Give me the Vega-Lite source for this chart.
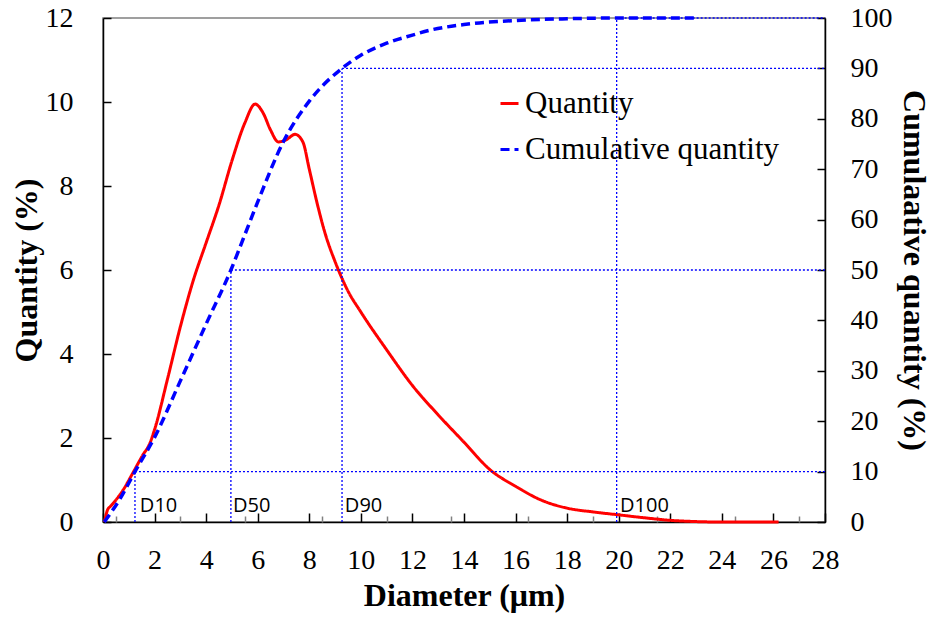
{
  "$schema": "https://vega.github.io/schema/vega-lite/v6.json",
  "width": 722,
  "height": 504,
  "autosize": "none",
  "padding": {"left": 103, "top": 18, "right": 107, "bottom": 97},
  "background": "white",
  "config": {
    "view": {"stroke": "#808080", "strokeWidth": 1.5},
    "axis": {"grid": false, "labelFont": "Liberation Serif", "labelFontSize": 28, "labelColor": "black", "labelFlush": false, "labelOverlap": false, "titleFont": "Liberation Serif", "titleFontSize": 32, "titleFontWeight": "bold", "titleColor": "black", "domainColor": "black", "domainWidth": 1.5, "tickColor": "black", "tickWidth": 1.5},
    "legend": {"padding": 0}
  },
  "datasets": {
    "qty": [
      {"s": "Quantity", "d": 0.05, "v": 0}, {"s": "Quantity", "d": 0.1, "v": 0.12}, {"s": "Quantity", "d": 0.17, "v": 0.28}, {"s": "Quantity", "d": 0.3, "v": 0.38}, {"s": "Quantity", "d": 0.47, "v": 0.5},
      {"s": "Quantity", "d": 0.8, "v": 0.78}, {"s": "Quantity", "d": 1.16, "v": 1.17}, {"s": "Quantity", "d": 1.55, "v": 1.6}, {"s": "Quantity", "d": 1.8, "v": 1.85}, {"s": "Quantity", "d": 2.0, "v": 2.2},
      {"s": "Quantity", "d": 2.5, "v": 3.4}, {"s": "Quantity", "d": 3.0, "v": 4.65}, {"s": "Quantity", "d": 3.5, "v": 5.75}, {"s": "Quantity", "d": 4.0, "v": 6.65}, {"s": "Quantity", "d": 4.5, "v": 7.55},
      {"s": "Quantity", "d": 5.0, "v": 8.6}, {"s": "Quantity", "d": 5.5, "v": 9.5}, {"s": "Quantity", "d": 5.9, "v": 9.95}, {"s": "Quantity", "d": 6.2, "v": 9.75}, {"s": "Quantity", "d": 6.5, "v": 9.33},
      {"s": "Quantity", "d": 6.8, "v": 9.05}, {"s": "Quantity", "d": 7.1, "v": 9.1}, {"s": "Quantity", "d": 7.45, "v": 9.23}, {"s": "Quantity", "d": 7.75, "v": 9.05}, {"s": "Quantity", "d": 8.0, "v": 8.4},
      {"s": "Quantity", "d": 8.3, "v": 7.6}, {"s": "Quantity", "d": 8.6, "v": 6.9}, {"s": "Quantity", "d": 9.0, "v": 6.2}, {"s": "Quantity", "d": 9.5, "v": 5.5}, {"s": "Quantity", "d": 10.0, "v": 5.0}, {"s": "Quantity", "d": 11.0, "v": 4.1},
      {"s": "Quantity", "d": 12.0, "v": 3.25}, {"s": "Quantity", "d": 13.0, "v": 2.55}, {"s": "Quantity", "d": 14.0, "v": 1.9}, {"s": "Quantity", "d": 15.0, "v": 1.25}, {"s": "Quantity", "d": 16.0, "v": 0.85},
      {"s": "Quantity", "d": 17.0, "v": 0.52}, {"s": "Quantity", "d": 18.0, "v": 0.33}, {"s": "Quantity", "d": 19.0, "v": 0.24}, {"s": "Quantity", "d": 20.0, "v": 0.17}, {"s": "Quantity", "d": 21.0, "v": 0.1},
      {"s": "Quantity", "d": 22.0, "v": 0.04}, {"s": "Quantity", "d": 23.0, "v": 0.01}, {"s": "Quantity", "d": 24.0, "v": 0}, {"s": "Quantity", "d": 26.2, "v": 0}
    ],
    "cum": [
      {"s": "Cumulative quantity", "d": 0.05, "v": 0}, {"s": "Cumulative quantity", "d": 0.66, "v": 4.6}, {"s": "Cumulative quantity", "d": 1.24, "v": 10}, {"s": "Cumulative quantity", "d": 2.0, "v": 16.8}, {"s": "Cumulative quantity", "d": 3.0, "v": 28},
      {"s": "Cumulative quantity", "d": 4.0, "v": 39.3}, {"s": "Cumulative quantity", "d": 4.96, "v": 50}, {"s": "Cumulative quantity", "d": 5.5, "v": 57}, {"s": "Cumulative quantity", "d": 6.0, "v": 63.5}, {"s": "Cumulative quantity", "d": 7.0, "v": 75.5},
      {"s": "Cumulative quantity", "d": 8.03, "v": 83.7}, {"s": "Cumulative quantity", "d": 9.27, "v": 90}, {"s": "Cumulative quantity", "d": 10.0, "v": 92.6},
      {"s": "Cumulative quantity", "d": 11.0, "v": 95.0}, {"s": "Cumulative quantity", "d": 12.0, "v": 96.6}, {"s": "Cumulative quantity", "d": 12.7, "v": 97.6}, {"s": "Cumulative quantity", "d": 14.0, "v": 98.7}, {"s": "Cumulative quantity", "d": 16.0, "v": 99.5},
      {"s": "Cumulative quantity", "d": 18.0, "v": 99.85}, {"s": "Cumulative quantity", "d": 20.0, "v": 100}, {"s": "Cumulative quantity", "d": 23.0, "v": 100}
    ],
    "guides": [
      {"label": "D10", "x": 1.24, "p": 10, "tx": 1.43, "base": 0, "end": 28, "ty": 2},
      {"label": "D50", "x": 4.96, "p": 50, "tx": 5.04, "base": 0, "end": 28, "ty": 2},
      {"label": "D90", "x": 9.27, "p": 90, "tx": 9.38, "base": 0, "end": 28, "ty": 2},
      {"label": "D100", "x": 19.92, "p": 100, "tx": 20.05, "base": 0, "end": 28, "ty": 2}
    ]
  },
  "layer": [
    {
      "data": {"name": "qty"},
      "mark": {"type": "line", "strokeWidth": 3, "interpolate": "monotone"},
      "encoding": {
        "x": {"field": "d", "type": "quantitative", "scale": {"domain": [0, 28], "nice": false},
          "axis": {"orient": "bottom", "values": [0, 2, 4, 6, 8, 10, 12, 14, 16, 18, 20, 22, 24, 26, 28], "tickSize": -9, "labelPadding": 33, "labelFont": "Liberation Serif", "labelFontSize": 28, "labelFlush": false, "title": "Diameter (μm)", "titlePadding": 6}},
        "y": {"field": "v", "type": "quantitative", "scale": {"domain": [0, 12], "nice": false},
          "axis": {"orient": "left", "values": [0, 2, 4, 6, 8, 10, 12], "tickSize": -8, "labelPadding": 38, "labelFont": "Liberation Serif", "labelFontSize": 28, "title": "Quantity (%)", "titlePadding": 2}},
        "color": {"field": "s", "type": "nominal", "scale": {"domain": ["Quantity", "Cumulative quantity"], "range": ["#ff0000", "#0000ff"]},
          "legend": {"title": null, "orient": "none", "legendX": 391, "legendY": 70, "labelFont": "Liberation Serif", "labelFontSize": 31, "labelColor": "black", "symbolType": "stroke", "symbolSize": 324, "symbolStrokeWidth": 3, "rowPadding": 14, "labelOffset": 0, "labelLimit": 400}},
        "strokeDash": {"field": "s", "type": "nominal", "scale": {"domain": ["Quantity", "Cumulative quantity"], "range": [[1, 0], [9, 5]]}}
      }
    },
    {
      "layer": [
        {
          "data": {"name": "guides"},
          "mark": {"type": "rule", "color": "#0000ff", "strokeWidth": 1.3, "strokeDash": [2, 2]},
          "encoding": {
            "x": {"field": "x", "type": "quantitative", "scale": {"domain": [0, 28], "nice": false},
              "axis": {"orient": "bottom", "values": [0.5, 1, 1.5, 2.5, 3, 3.5, 4.5, 5, 5.5, 6.5, 7, 7.5, 8.5, 9, 9.5, 10.5, 11, 11.5, 12.5, 13, 13.5, 14.5, 15, 15.5, 16.5, 17, 17.5, 18.5, 19, 19.5, 20.5, 21, 21.5, 22.5, 23, 23.5, 24.5, 25, 25.5, 26.5, 27, 27.5], "labels": false, "domain": false, "title": null, "tickSize": -6, "tickColor": "#808080"}},
            "y": {"field": "base", "type": "quantitative", "scale": {"domain": [0, 100], "nice": false},
              "axis": {"orient": "right", "values": [0, 10, 20, 30, 40, 50, 60, 70, 80, 90, 100], "tickSize": -8, "labelPadding": 33, "labelFont": "Liberation Serif", "labelFontSize": 28, "title": "Cumulaative quantity (%)", "titlePadding": 4}},
            "y2": {"field": "p"}
          }
        },
        {
          "data": {"name": "guides"},
          "mark": {"type": "rule", "color": "#0000ff", "strokeWidth": 1.3, "strokeDash": [2, 2]},
          "encoding": {
            "x": {"field": "x", "type": "quantitative"},
            "x2": {"field": "end"},
            "y": {"field": "p", "type": "quantitative"}
          }
        },
        {
          "data": {"name": "guides"},
          "mark": {"type": "text", "align": "left", "baseline": "alphabetic", "font": "Open Sans", "fontSize": 20, "color": "black"},
          "encoding": {
            "x": {"field": "tx", "type": "quantitative"},
            "y": {"field": "ty", "type": "quantitative"},
            "text": {"field": "label"}
          }
        },
        {
          "data": {"name": "cum"},
          "mark": {"type": "line", "strokeWidth": 3.5, "interpolate": "monotone"},
          "encoding": {
            "x": {"field": "d", "type": "quantitative"},
            "y": {"field": "v", "type": "quantitative"},
            "color": {"field": "s", "type": "nominal"},
            "strokeDash": {"field": "s", "type": "nominal"}
          }
        }
      ]
    }
  ],
  "resolve": {"scale": {"y": "independent"}, "axis": {"x": "independent", "y": "independent"}}
}
